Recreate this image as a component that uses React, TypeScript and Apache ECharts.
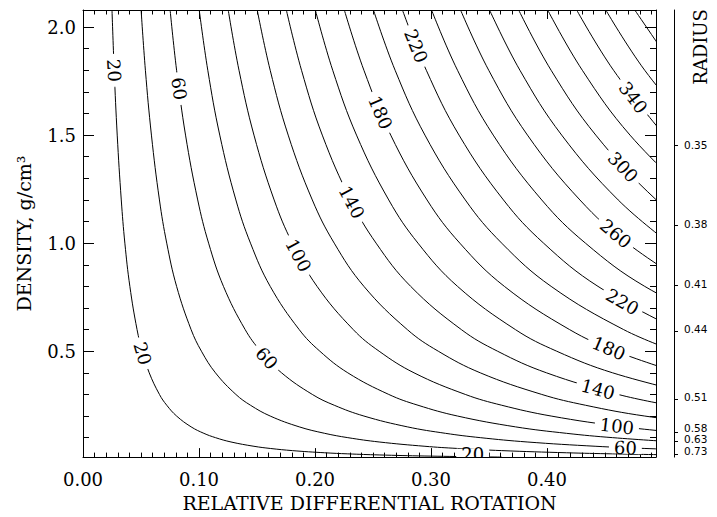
import React, { useEffect, useRef } from "react";
import * as echarts from "echarts";

// Density rows (g/cm^3) at which each contour's rotation value was read
const densityRows = [2.079, 1.8, 1.5, 1.2, 1.0, 0.8, 0.6, 0.5, 0.4, 0.3, 0.25, 0.2, 0.15, 0.12, 0.1, 0.08, 0.06, 0.05, 0.04, 0.03, 0.025, 0.02, 0.015, 0.01];

const contourLevels = [20, 40, 60, 80, 100, 120, 140, 160, 180, 200, 220, 240, 260, 280, 300, 320, 340, 360, 380];

// Relative differential rotation of each contour at the density rows above
const contour20 = [0.0250, 0.0269, 0.0295, 0.0330, 0.0361, 0.0404, 0.0466, 0.0511, 0.0571, 0.0659, 0.0722, 0.0807, 0.0932, 0.1042, 0.1142, 0.1276, 0.1474, 0.1615, 0.1805, 0.2084, 0.2283, 0.2553, 0.2948, 0.3610];
const contour40 = [0.0501, 0.0538, 0.0590, 0.0659, 0.0722, 0.0807, 0.0932, 0.1021, 0.1142, 0.1318, 0.1444, 0.1614, 0.1864, 0.2084, 0.2283, 0.2553, 0.2948, 0.3229, 0.3610, 0.4169, 0.4566, 0.5106];
const contour60 = [0.0751, 0.0807, 0.0884, 0.0989, 0.1083, 0.1211, 0.1398, 0.1532, 0.1712, 0.1977, 0.2166, 0.2422, 0.2796, 0.3126, 0.3425, 0.3829, 0.4422, 0.4844, 0.5415];
const contour80 = [0.1002, 0.1076, 0.1179, 0.1318, 0.1444, 0.1614, 0.1864, 0.2042, 0.2283, 0.2636, 0.2888, 0.3229, 0.3728, 0.4169, 0.4566, 0.5105];
const contour100 = [0.1252, 0.1345, 0.1474, 0.1648, 0.1805, 0.2018, 0.2330, 0.2553, 0.2854, 0.3296, 0.3610, 0.4036, 0.4661, 0.5211];
const contour120 = [0.1502, 0.1614, 0.1769, 0.1977, 0.2166, 0.2422, 0.2796, 0.3063, 0.3425, 0.3955, 0.4332, 0.4843, 0.5593];
const contour140 = [0.1753, 0.1884, 0.2063, 0.2307, 0.2527, 0.2825, 0.3262, 0.3574, 0.3996, 0.4614, 0.5054];
const contour160 = [0.2003, 0.2153, 0.2358, 0.2636, 0.2888, 0.3229, 0.3728, 0.4084, 0.4566, 0.5273];
const contour180 = [0.2253, 0.2422, 0.2653, 0.2966, 0.3249, 0.3633, 0.4195, 0.4595, 0.5137];
const contour200 = [0.2504, 0.2691, 0.2948, 0.3296, 0.3610, 0.4036, 0.4661, 0.5105];
const contour220 = [0.2754, 0.2960, 0.3242, 0.3625, 0.3971, 0.4440, 0.5127];
const contour240 = [0.3005, 0.3229, 0.3537, 0.3955, 0.4332, 0.4843, 0.5593];
const contour260 = [0.3255, 0.3498, 0.3832, 0.4284, 0.4693, 0.5247];
const contour280 = [0.3505, 0.3767, 0.4127, 0.4614, 0.5054];
const contour300 = [0.3756, 0.4036, 0.4421, 0.4943, 0.5415];
const contour320 = [0.4006, 0.4305, 0.4716, 0.5273];
const contour340 = [0.4256, 0.4574, 0.5011];
const contour360 = [0.4507, 0.4843, 0.5306];
const contour380 = [0.4757, 0.5112];

const contourRotations = [contour20, contour40, contour60, contour80, contour100, contour120, contour140, contour160, contour180, contour200, contour220, contour240, contour260, contour280, contour300, contour320, contour340, contour360, contour380];

// Contour label anchors
const labelLevels = [20, 20, 20, 60, 60, 60, 100, 100, 140, 140, 180, 180, 220, 220, 260, 300, 340];
const labelRotation = [0.0269, 0.0515, 0.336, 0.083, 0.1584, 0.4676, 0.1858, 0.4603, 0.2317, 0.444, 0.2565, 0.4533, 0.2872, 0.4651, 0.4594, 0.4656, 0.4744];
const labelDensity = [1.8, 0.49, 0.021, 1.715, 0.468, 0.0536, 0.944, 0.1538, 1.19, 0.324, 1.605, 0.514, 1.912, 0.729, 1.044, 1.3525, 1.674];
const labelAngles = [-87, -74, 0, -82, -48, -2, -62, -7, -62, -15, -67, -23, -68, -30, -40, -47, -53];

// Axis ticks
const xTickValues = [0, 0.1, 0.2, 0.3, 0.4];
const yTickValues = [0.5, 1.0, 1.5, 2.0];
const radiusTickDensity = [1.455, 1.082, 0.806, 0.594, 0.276, 0.124, 0.084, 0.023];
const radiusLabelDensity = [1.454, 1.089, 0.813, 0.605, 0.286, 0.145, 0.092, 0.039];
const radiusTickLabels = ["0.35", "0.38", "0.41", "0.44", "0.51", "0.58", "0.63", "0.73"];

const X_MIN = 0;
const X_MAX = 0.494;
const Y_MIN = 0.01;
const Y_MAX = 2.079;

const xMinorTicks: number[] = [];
for (let i = 1; i < 50; i++) if (i % 10 !== 0) xMinorTicks.push(i / 100);
const yMinorTicks: number[] = [];
for (let i = 1; i <= 20; i++) if (i % 5 !== 0) yMinorTicks.push(i / 10);

const SERIF = '"DejaVu Serif", serif';
const BLACK = "#000";

function xAxisDef(position: string, ticks: number[], len: number, withLine: boolean, extra: any = {}) {
  return {
    type: "value",
    position,
    min: X_MIN,
    max: X_MAX,
    axisLine: { show: withLine, onZero: false, lineStyle: { color: BLACK, width: 1 } },
    axisTick: { show: true, inside: true, length: len, customValues: ticks, lineStyle: { color: BLACK, width: 1 } },
    axisLabel: { show: false },
    splitLine: { show: false },
    ...extra,
  };
}

function yAxisDef(position: string, ticks: number[], len: number, withLine: boolean, extra: any = {}) {
  return {
    type: "value",
    position,
    min: Y_MIN,
    max: Y_MAX,
    axisLine: { show: withLine, onZero: false, lineStyle: { color: BLACK, width: 1 } },
    axisTick: { show: true, inside: true, length: len, customValues: ticks, lineStyle: { color: BLACK, width: 1 } },
    axisLabel: { show: false },
    splitLine: { show: false },
    ...extra,
  };
}

export default function App() {
  const ref = useRef<HTMLDivElement>(null);

  useEffect(() => {
    if (!ref.current) return;
    const chart = echarts.init(ref.current, null, { renderer: "svg" });

    const lineSeries = contourLevels.map((lvl, i) => ({
      type: "line",
      name: String(lvl),
      data: contourRotations[i].map((x, j) => [x, densityRows[j]]),
      showSymbol: false,
      symbol: "none",
      smooth: 0.4,
      clip: true,
      silent: true,
      z: 2,
      lineStyle: { color: BLACK, width: 1 },
    }));

    const labelSeries = {
      type: "custom",
      coordinateSystem: "cartesian2d",
      clip: true,
      silent: true,
      z: 5,
      data: labelLevels.map((lvl, i) => [labelRotation[i], labelDensity[i], lvl, labelAngles[i]]),
      renderItem: (_params: any, api: any) => {
        const p = api.coord([api.value(0), api.value(1)]);
        return {
          type: "text",
          x: p[0],
          y: p[1],
          rotation: (api.value(3) * Math.PI) / 180,
          style: {
            text: String(api.value(2)),
            fill: BLACK,
            font: '18px "DejaVu Serif"',
            align: "center",
            verticalAlign: "middle",
            backgroundColor: "#fff",
            padding: [0, 5],
            lineHeight: 12,
          },
        };
      },
    };

    chart.setOption({
      animation: false,
      backgroundColor: "#fff",
      grid: { left: 83, right: 61, top: 10, bottom: 58, containLabel: false },
      xAxis: [
        xAxisDef("bottom", xTickValues, 9, true, {
          axisLabel: {
            show: true,
            customValues: xTickValues,
            formatter: (v: number) => v.toFixed(2),
            margin: 13,
            color: BLACK,
            fontFamily: SERIF,
            fontSize: 18,
          },
          name: "RELATIVE DIFFERENTIAL ROTATION",
          nameLocation: "middle",
          nameGap: 33,
          nameTextStyle: { color: BLACK, fontFamily: SERIF, fontSize: 19 },
        }),
        xAxisDef("bottom", xMinorTicks, 4.5, false),
        xAxisDef("top", xTickValues, 9, true),
        xAxisDef("top", xMinorTicks, 4.5, false),
      ],
      yAxis: [
        yAxisDef("left", yTickValues, 11, true, {
          axisLabel: {
            show: true,
            customValues: yTickValues,
            formatter: (v: number) => v.toFixed(1),
            margin: 7,
            color: BLACK,
            fontFamily: SERIF,
            fontSize: 18,
          },
          name: "DENSITY, g/cm\u00B3",
          nameLocation: "middle",
          nameGap: 50,
          nameTextStyle: { color: BLACK, fontFamily: SERIF, fontSize: 19 },
        }),
        yAxisDef("left", yMinorTicks, 6, false),
        yAxisDef("right", yTickValues, 11, true),
        yAxisDef("right", yMinorTicks, 6, false),
        {
          type: "value",
          position: "right",
          offset: 18,
          min: Y_MIN,
          max: Y_MAX,
          axisLine: { show: true, onZero: false, lineStyle: { color: BLACK, width: 1 } },
          axisTick: { show: true, inside: false, length: 4, customValues: radiusTickDensity, lineStyle: { color: BLACK, width: 1 } },
          axisLabel: {
            show: true,
            customValues: radiusLabelDensity,
            formatter: (v: number) => {
              let best = 0;
              for (let i = 1; i < radiusLabelDensity.length; i++) {
                if (Math.abs(radiusLabelDensity[i] - v) < Math.abs(radiusLabelDensity[best] - v)) best = i;
              }
              return radiusTickLabels[best];
            },
            margin: 10,
            color: BLACK,
            fontFamily: '"DejaVu Sans", sans-serif',
            fontSize: 10.5,
            lineHeight: 10,
          },
          splitLine: { show: false },
        },
      ],
      graphic: [
        {
          type: "text",
          x: 700,
          y: 47,
          rotation: Math.PI / 2,
          style: {
            text: "RADIUS",
            fill: BLACK,
            font: '18px "DejaVu Serif"',
            align: "center",
            verticalAlign: "middle",
          },
        },
      ],
      series: [...lineSeries, labelSeries],
    });

    return () => chart.dispose();
  }, []);

  return (
    <div
      ref={ref}
      style={{ position: "absolute", left: 0, top: 0, width: 717, height: 517, background: "#fff" }}
    />
  );
}
